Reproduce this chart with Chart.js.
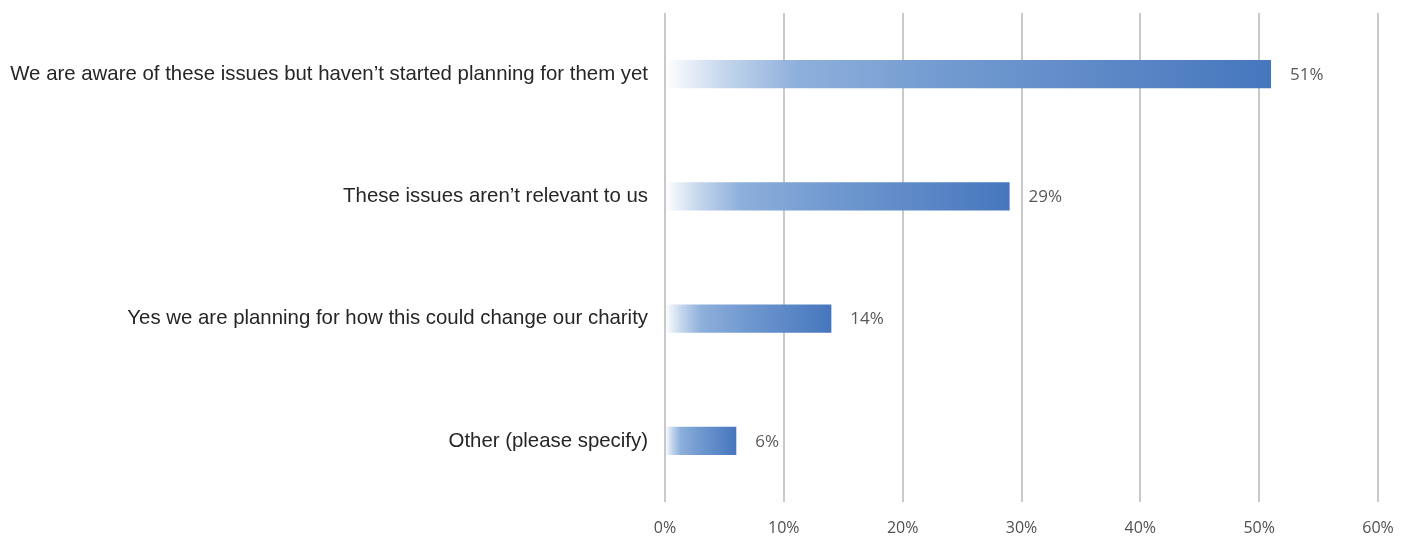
<!DOCTYPE html>
<html>
<head>
<meta charset="utf-8">
<script src="https://cdn.jsdelivr.net/npm/chart.js@4"></script>
<style>
  html, body { margin: 0; padding: 0; background: #fff; }
  #wrap { width: 1413px; height: 537px; }
</style>
</head>
<body>
<div id="wrap"><canvas id="chart"></canvas></div>
<script>
const answers = [
  'We are aware of these issues but haven\u2019t started planning for them yet',
  'These issues aren\u2019t relevant to us',
  'Yes we are planning for how this could change our charity',
  'Other (please specify)'
];
const shares = [51, 29, 14, 6];
const axisTicks = [0, 10, 20, 30, 40, 50, 60];

// fade each bar from white at its base to solid blue at its end
function barFill(context) {
  const chart = context.chart;
  const x = chart.scales && chart.scales.x;
  if (!x || !chart.chartArea || context.raw === undefined) {
    return '#4a7bc0';
  }
  const start = x.getPixelForValue(0);
  const end = x.getPixelForValue(context.raw);
  if (!isFinite(start) || !isFinite(end) || end <= start) {
    return '#4a7bc0';
  }
  const g = chart.ctx.createLinearGradient(start, 0, end, 0);
  g.addColorStop(0, 'rgba(255,255,255,1)');
  g.addColorStop(0.1, '#c3d5ec');
  g.addColorStop(0.22, '#8dafdb');
  g.addColorStop(0.5, '#6f98cf');
  g.addColorStop(1, '#4676bd');
  return g;
}

const valueLabels = {
  id: 'valueLabels',
  afterDatasetsDraw(chart) {
    const ctx = chart.ctx;
    const meta = chart.getDatasetMeta(0);
    ctx.save();
    ctx.font = '17px "Open Sans", sans-serif';
    ctx.fillStyle = '#595959';
    ctx.textBaseline = 'middle';
    meta.data.forEach((bar, i) => {
      ctx.fillText(shares[i] + '%', bar.x + 19, bar.y + 1);
    });
    ctx.restore();
  }
};

new Chart(document.getElementById('chart'), {
  type: 'bar',
  data: {
    labels: answers,
    datasets: [{
      data: shares,
      backgroundColor: barFill,
      borderWidth: 0,
      barPercentage: 0.46,
      categoryPercentage: 0.5
    }]
  },
  options: {
    indexAxis: 'y',
    responsive: true,
    maintainAspectRatio: false,
    animation: false,
    layout: { padding: { top: 13, right: 35, left: 0, bottom: 0 } },
    plugins: {
      legend: { display: false },
      tooltip: { enabled: false }
    },
    scales: {
      x: {
        min: 0,
        max: 60,
        afterBuildTicks(scale) {
          scale.ticks = axisTicks.map(v => ({ value: v }));
        },
        afterFit(scale) { scale.height = 35; },
        grid: { color: '#c9c9c9', lineWidth: 2, drawTicks: false },
        border: { display: false },
        ticks: {
          padding: 17,
          color: '#505050',
          font: { family: '"Open Sans", sans-serif', size: 16 },
          callback: v => v + '%'
        }
      },
      y: {
        afterFit(scale) {
          scale.width = 665;
          scale.paddingTop = 0;
          scale.paddingBottom = 0;
        },
        grid: { display: false, drawTicks: false },
        border: { display: false },
        ticks: {
          padding: 17,
          color: '#262626',
          font: { family: '"Liberation Sans", Arial, sans-serif', size: 20.4 }
        }
      }
    }
  },
  plugins: [valueLabels]
});
</script>
</body>
</html>
